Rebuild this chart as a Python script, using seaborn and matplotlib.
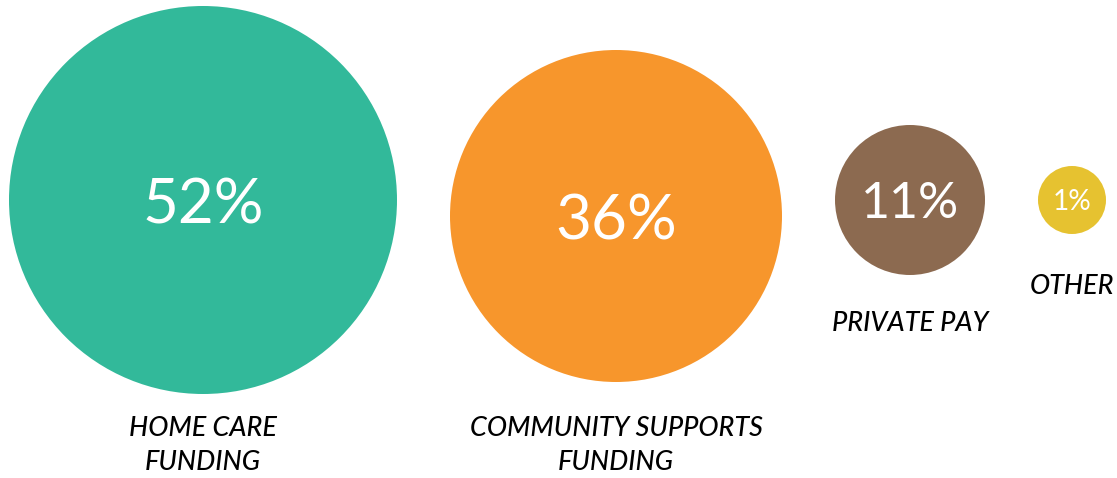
import matplotlib
matplotlib.use("Agg")
import matplotlib.pyplot as plt
import seaborn as sns
import pandas as pd

# ---- data ----
categories = ["HOME CARE\nFUNDING", "COMMUNITY SUPPORTS\nFUNDING", "PRIVATE PAY", "OTHER"]
values = [52, 36, 11, 1]
value_labels = ["52%", "36%", "11%", "1%"]

# ---- styles / layout ----
colors = ["#32B99A", "#F7962C", "#8C6A50", "#E6C230"]
radius_px = {52: 194, 36: 166, 11: 75, 1: 34}
center_y = [200, 216, 200, 200]
label_top = [418, 418, 313, 276]
pct_fontsize = [62, 62, 50, 28]
left_margin, gap = 9, 53

W, H, DPI = 1117, 478, 72
sns.set_theme(style="white")
plt.rcParams["font.family"] = ["Lato", "DejaVu Sans"]

fig = plt.figure(figsize=(W / DPI, H / DPI), dpi=DPI)
ax = fig.add_axes([0, 0, 1, 1])

# x positions derived from radii (circles laid out with equal gaps)
xs = []
cursor = left_margin
for v in values:
    r = radius_px[v]
    xs.append(cursor + r)
    cursor += 2 * r + gap

df = pd.DataFrame({"cat": categories, "value": values, "x": xs, "y": center_y})
sizes = {v: (2 * r) ** 2 for v, r in radius_px.items()}  # marker area in pt^2 (1pt = 1px at 72 dpi)

sns.scatterplot(data=df, x="x", y="y", hue="cat", palette=colors, size="value",
                sizes=sizes, linewidth=0, legend=False, ax=ax, alpha=1)

for i, (x, y, v) in enumerate(zip(xs, center_y, values)):
    ax.text(x, y, value_labels[i], color="white", fontsize=pct_fontsize[i],
            ha="center", va="center_baseline")
    lines = categories[i].split("\n")
    for j, line in enumerate(lines):
        ax.text(x, label_top[i] - 2 + j * 34, line, color="black", fontsize=27,
                style="italic", fontweight="medium", ha="center", va="top")

ax.set_xlim(0, W)
ax.set_ylim(H, 0)
ax.axis("off")
fig.savefig("out.png", dpi=DPI, facecolor="white")
